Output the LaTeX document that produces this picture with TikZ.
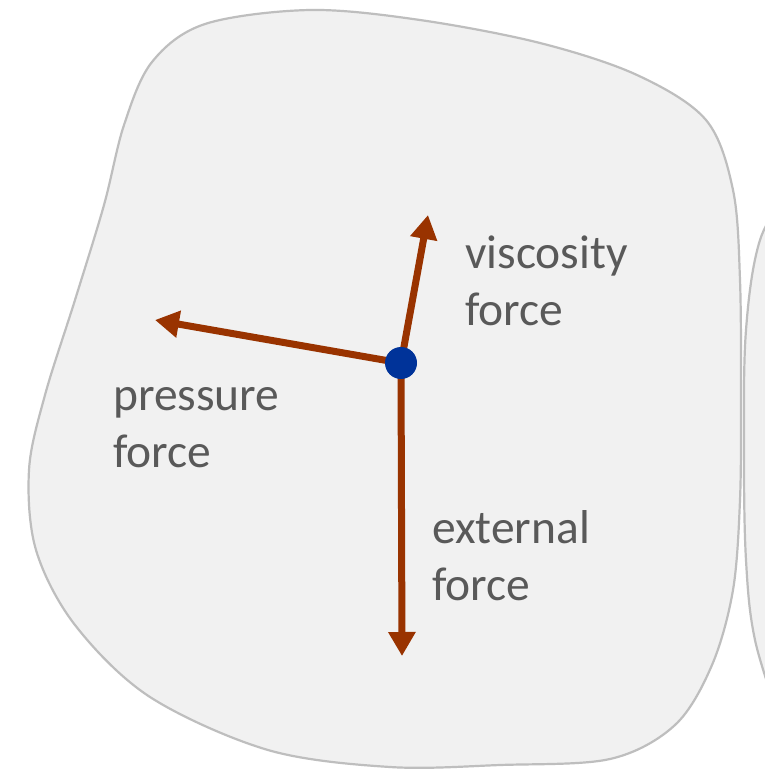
\documentclass[tikz,border=0pt]{standalone}
\usepackage{fontspec}
\setmainfont{Carlito}
\usetikzlibrary{arrows.meta}
\definecolor{blobfill}{RGB}{241,241,241}
\definecolor{blobline}{RGB}{190,190,190}
\definecolor{forcecol}{RGB}{153,51,0}
\definecolor{dotcol}{RGB}{0,51,153}
\definecolor{txtcol}{RGB}{89,89,89}
\tikzset{
  blob/.style={fill=blobfill,draw=blobline,line width=2.2pt},
  force/.style={draw=forcecol,line width=7pt,-{Triangle[length=24pt,width=26pt]}},
  lbl/.style={text=txtcol,font=\fontsize{47.5}{57}\selectfont,align=left,inner sep=0pt,anchor=base west},
  pointdot/.style={circle,fill=dotcol,minimum size=32pt,inner sep=0pt}
}
\begin{document}
\begin{tikzpicture}[x=1pt,y=-1pt]
\useasboundingbox (0,0) rectangle (765,772);
\fill[white] (0,0) rectangle (765,772);
\begin{scope}
\clip (0,0) rectangle (765,772);
\draw[blob] plot[smooth cycle,tension=0.55] coordinates {
 (310,10) (420,20) (540,43) (637,75) (706,120) (733,190) (740,280)
 (741,400) (740,500) (733,590) (712,665) (675,725) (610,759) (500,765)
 (390,767) (268,750) (150,697) (75,625) (36,550) (29,470) (45,395)
 (75,300) (104,205) (124,125) (152,62) (205,24)};
\draw[blob] plot[smooth,tension=0.6] coordinates {
 (790,190) (760,240) (746,330) (744,450) (746,560) (755,640) (780,720)};
\end{scope}
\coordinate (vt) at (428,215);
\coordinate (pt) at (155,320);
\coordinate (et) at (402,656);
\coordinate (o) at (401,363);
\draw[force] (o) -- (vt);
\draw[force] (o) -- (pt);
\draw[force] (o) -- (et);
\node[pointdot] (c) at (o) {};
\node[lbl] (vl) at (465,325) {viscosity\\force};
\node[lbl] (pl) at (113,467) {pressure\\force};
\node[lbl] (el) at (432,600) {external\\force};
\end{tikzpicture}
\end{document}
